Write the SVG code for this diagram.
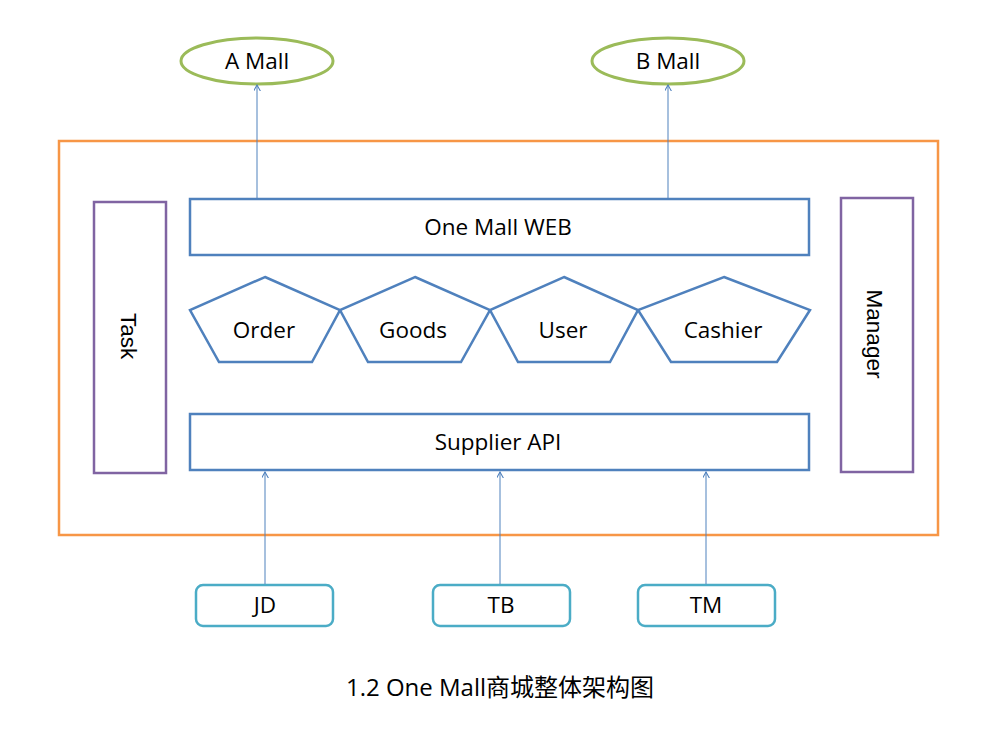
<svg xmlns="http://www.w3.org/2000/svg" width="989" height="735" viewBox="0 0 989 735">
<style>
.t{font-family:"Open Sans","Liberation Sans",sans-serif;font-size:22.5px;fill:#000;text-anchor:middle;dominant-baseline:central}
.ta{font-family:"Liberation Sans",Arial,sans-serif;font-size:22.5px;fill:#000;text-anchor:middle;dominant-baseline:central}
.blue{fill:#fff;stroke:#4F81BD;stroke-width:2.5}
.purple{fill:#fff;stroke:#8064A2;stroke-width:2.5}
.green{fill:#fff;stroke:#9BBB59;stroke-width:3}
.cyan{fill:#fff;stroke:#4BACC6;stroke-width:2.5}
.conn{stroke:#4F81BD;stroke-width:1;fill:none;marker-end:url(#arr)}
</style>
<defs>
<marker id="arr" viewBox="0 0 10 10" refX="9" refY="5" markerWidth="7" markerHeight="7" markerUnits="userSpaceOnUse" orient="auto">
<path d="M0,0 L9,5 L0,10" fill="none" stroke="#4F81BD" stroke-width="1.5"/>
</marker>
</defs>
<rect width="989" height="735" fill="#fff"/>
<g id="container"><rect x="59" y="141" width="879" height="394" fill="none" stroke="#F79646" stroke-width="2.5"/></g>
<g id="amall"><ellipse cx="257" cy="61" rx="76" ry="23" class="green"/><text x="257" y="60" class="t">A Mall</text></g>
<g id="bmall"><ellipse cx="668" cy="61" rx="76" ry="23" class="green"/><text x="668" y="60" class="t">B Mall</text></g>
<g id="task"><rect x="94" y="202" width="72" height="271" class="purple"/><text class="ta" transform="translate(128,336) rotate(90)">Task</text></g>
<g id="manager"><rect x="841" y="198" width="72" height="274" class="purple"/><text class="ta" transform="translate(874,334) rotate(90)">Manager</text></g>
<g id="web"><rect x="190" y="199" width="619" height="56" class="blue"/><text x="498" y="226" class="t">One Mall WEB</text></g>
<g id="order"><polygon points="265,277 340,310 312,362 219,362 190,310" class="blue"/><text x="264" y="329" class="t">Order</text></g>
<g id="goods"><polygon points="415,277 490,310 461,362 368,362 340,310" class="blue"/><text x="413" y="329" class="t">Goods</text></g>
<g id="user"><polygon points="564,277 638,310 610,362 518,362 490,310" class="blue"/><text x="563" y="329" class="t">User</text></g>
<g id="cashier"><polygon points="724,277 810,310 777,362 671,362 638,310" class="blue"/><text x="723" y="329" class="t">Cashier</text></g>
<g id="supplier"><rect x="190" y="414" width="619" height="56" class="blue"/><text x="498" y="441" class="t">Supplier API</text></g>
<g id="jd"><rect x="196" y="585" width="137" height="41" rx="7" class="cyan"/><text x="265" y="604" class="t">JD</text></g>
<g id="tb"><rect x="433" y="585" width="137" height="41" rx="7" class="cyan"/><text x="501" y="604" class="t">TB</text></g>
<g id="tm"><rect x="638" y="585" width="137" height="41" rx="7" class="cyan"/><text x="706" y="604" class="t">TM</text></g>
<g id="connectors">
<line x1="257" y1="198" x2="257" y2="85" class="conn"/>
<line x1="668" y1="198" x2="668" y2="85" class="conn"/>
<line x1="265" y1="584" x2="265" y2="472" class="conn"/>
<line x1="500" y1="584" x2="500" y2="472" class="conn"/>
<line x1="706" y1="584" x2="706" y2="472" class="conn"/>
</g>
<text x="500" y="686" class="t" style="font-family:'Open Sans','Noto Sans CJK SC',sans-serif;font-size:24px">1.2 One Mall商城整体架构图</text>
</svg>
